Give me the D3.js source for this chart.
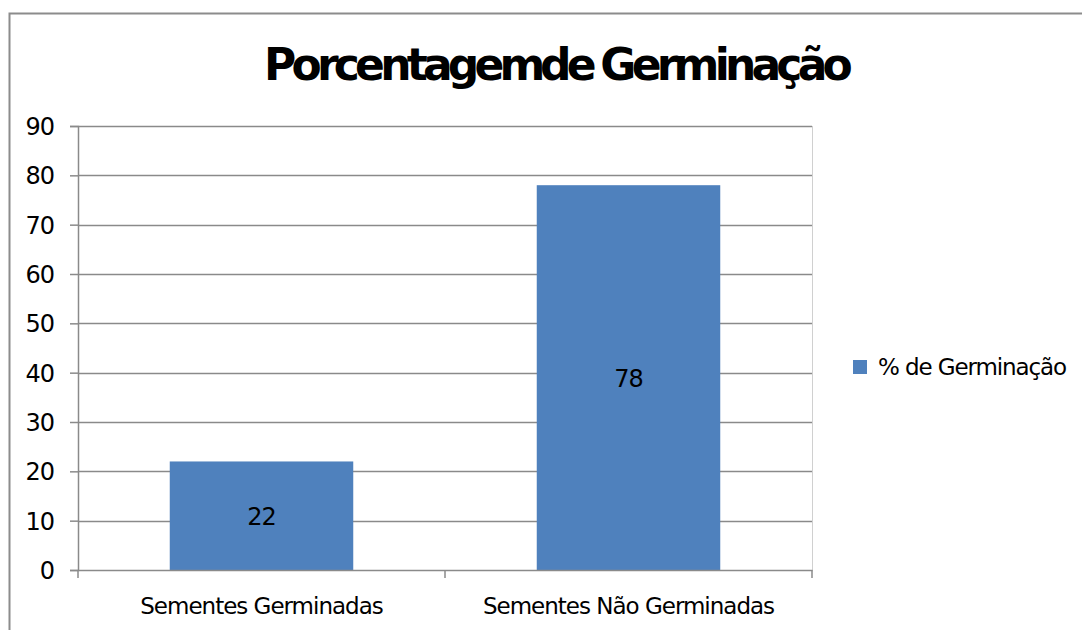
<!DOCTYPE html>
<html>
<head>
<meta charset="utf-8">
<script src="https://cdn.jsdelivr.net/npm/d3@7"></script>
<style>
  body { margin: 0; background: #fff; }
  svg { display: block; font-family: "DejaVu Sans", sans-serif; }
</style>
</head>
<body>
<div id="chart"></div>
<script>
// Dados do gráfico
const categorias = ["Sementes Germinadas", "Sementes Não Germinadas"];
const valores = [22, 78];
const serieNome = "% de Germinação";
const tituloPartes = ["Porcentagem de", " Germinação"];
const yTicks = [0, 10, 20, 30, 40, 50, 60, 70, 80, 90];

const w = 1082, h = 630;
const plot = { left: 78, right: 812, top: 126, bottom: 570 };

const svg = d3.select("#chart").append("svg")
    .attr("width", w)
    .attr("height", h);

// moldura externa
svg.append("rect")
    .attr("x", 9.5).attr("y", 13.5)
    .attr("width", w).attr("height", h)
    .attr("fill", "#fff")
    .attr("stroke", "#8c8c8c")
    .attr("stroke-width", 2);

// título (o espaço entre "Porcentagem" e "de" quase some no original)
const titulo = svg.append("text")
    .attr("x", 556).attr("y", 80)
    .attr("text-anchor", "middle")
    .attr("font-size", 44)
    .attr("font-weight", "bold")
    .attr("letter-spacing", -4.8);
titulo.selectAll("tspan")
    .data(tituloPartes)
    .enter()
    .append("tspan")
    .attr("word-spacing", (d, i) => i === 0 ? -11 : -2)
    .text(d => d);

const x = d3.scaleBand()
    .domain(categorias)
    .range([plot.left, plot.right])
    .paddingInner(0.5)
    .paddingOuter(0.25);

const y = d3.scaleLinear()
    .domain([0, 90])
    .range([plot.bottom, plot.top]);

// borda direita da área de plotagem
svg.append("line")
    .attr("x1", plot.right + 0.5).attr("x2", plot.right + 0.5)
    .attr("y1", plot.top).attr("y2", plot.bottom)
    .attr("stroke", "#d0d0d0");

// linhas de grade
svg.append("g")
    .selectAll("line")
    .data(yTicks.filter(d => d > 0))
    .enter()
    .append("line")
    .attr("x1", plot.left).attr("x2", plot.right)
    .attr("y1", d => Math.round(y(d)) + 0.5)
    .attr("y2", d => Math.round(y(d)) + 0.5)
    .attr("stroke", "#8a8a8a")
    .attr("stroke-width", 1.5);

// barras
svg.append("g")
    .selectAll("rect")
    .data(valores)
    .enter()
    .append("rect")
    .attr("x", (d, i) => x(categorias[i]))
    .attr("y", d => y(d))
    .attr("width", x.bandwidth())
    .attr("height", d => y(0) - y(d))
    .attr("fill", "#4f81bd");

// rótulos de dados
svg.append("g")
    .selectAll("text")
    .data(valores)
    .enter()
    .append("text")
    .attr("x", (d, i) => x(categorias[i]) + x.bandwidth() / 2)
    .attr("y", d => (y(d) + y(0)) / 2 + 9)
    .attr("text-anchor", "middle")
    .attr("font-size", 24)
    .attr("letter-spacing", -1)
    .text(d => d);

// eixo Y
const yAxis = svg.append("g")
    .attr("transform", `translate(${plot.left},0)`)
    .call(d3.axisLeft(y).tickValues(yTicks).tickSize(8).tickPadding(16));
yAxis.select(".domain").attr("stroke", "#8a8a8a").attr("stroke-width", 1.5);
yAxis.selectAll(".tick line").attr("stroke", "#8a8a8a").attr("stroke-width", 1.5);
yAxis.selectAll("text")
    .attr("font-size", 24)
    .attr("font-family", "DejaVu Sans")
    .attr("fill", "#000")
    .attr("letter-spacing", -1)
    .attr("dy", "0.36em");

// eixo X
const xAxis = svg.append("g")
    .attr("transform", `translate(0,${plot.bottom})`)
    .call(d3.axisBottom(x).tickSize(0).tickPadding(28));
xAxis.select(".domain").attr("stroke", "#8a8a8a").attr("stroke-width", 1.5);
xAxis.selectAll("text")
    .attr("font-size", 23)
    .attr("font-family", "DejaVu Sans")
    .attr("fill", "#000")
    .attr("letter-spacing", -1.0);

// marcas de divisão das categorias
const bordas = [plot.left, plot.left + x.step(), plot.right];
svg.append("g")
    .selectAll("line")
    .data(bordas)
    .enter()
    .append("line")
    .attr("x1", d => d).attr("x2", d => d)
    .attr("y1", plot.bottom).attr("y2", plot.bottom + 8)
    .attr("stroke", "#8a8a8a")
    .attr("stroke-width", 1.5);

// legenda
const leg = svg.append("g").attr("transform", "translate(853,360)");
leg.append("rect")
    .attr("width", 14).attr("height", 14)
    .attr("fill", "#4f81bd");
leg.append("text")
    .attr("x", 25).attr("y", 15)
    .attr("font-size", 23)
    .attr("letter-spacing", -1.1)
    .text(serieNome);
</script>
</body>
</html>
